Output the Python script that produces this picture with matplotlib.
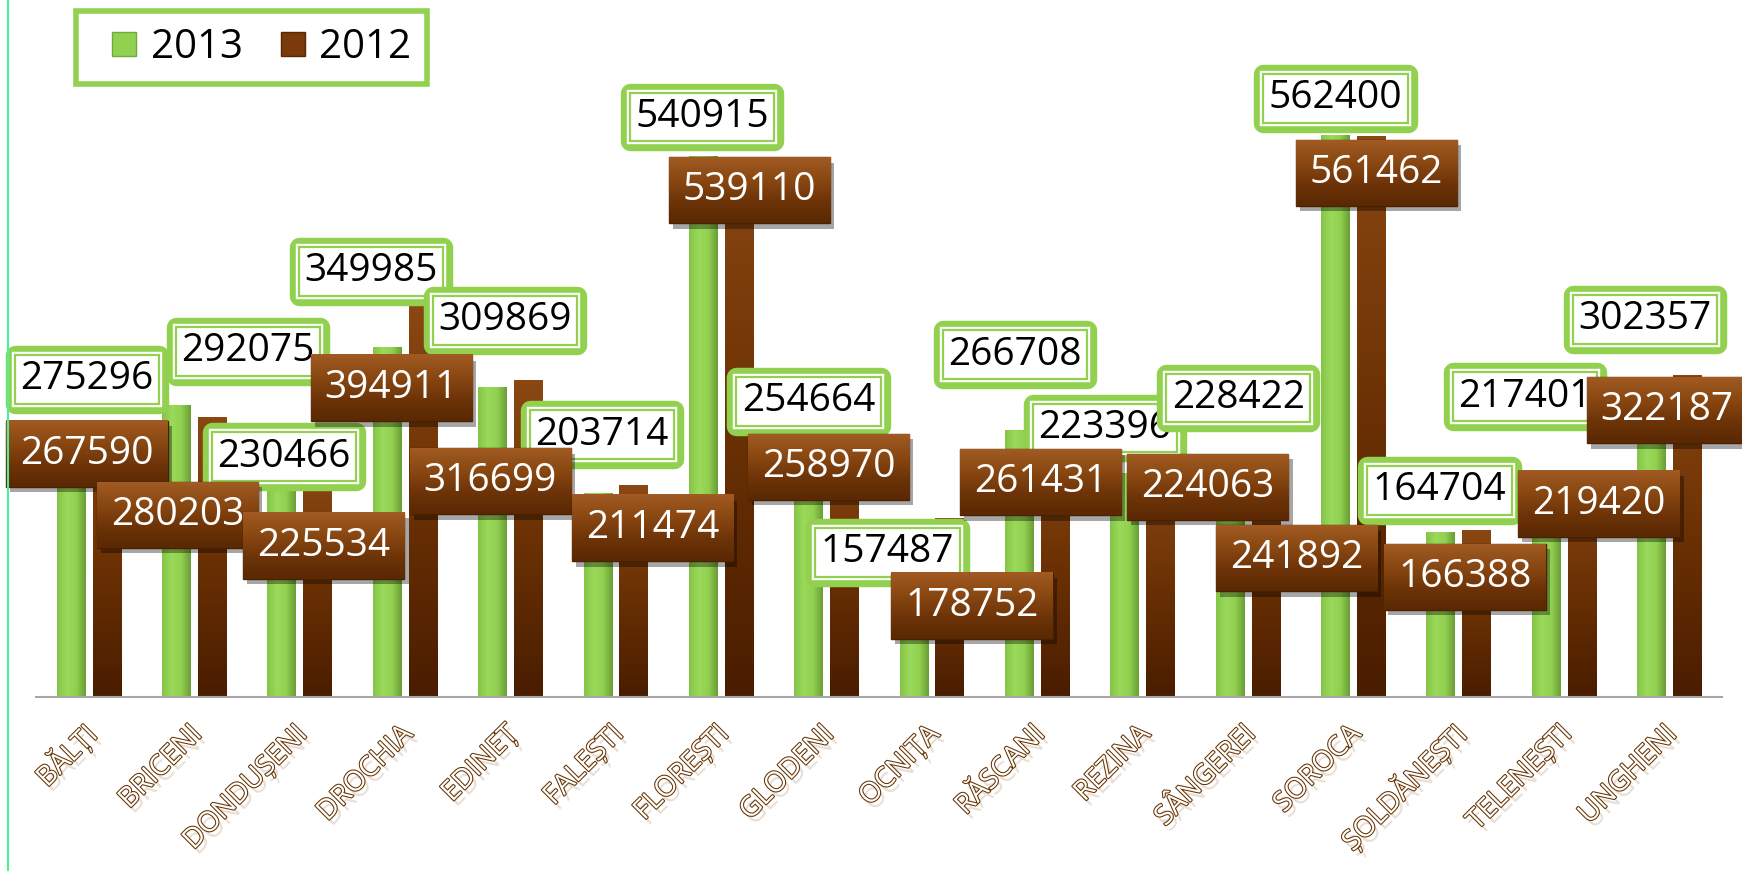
import numpy as np
import matplotlib
matplotlib.use("Agg")
import matplotlib.pyplot as plt
from matplotlib import patheffects as pe
from matplotlib.colors import LinearSegmentedColormap
from matplotlib.patches import Rectangle
from matplotlib.lines import Line2D
from matplotlib.transforms import ScaledTranslation

# raioane (north of Moldova)
raions = ['BĂLȚI', 'BRICENI', 'DONDUȘENI', 'DROCHIA', 'EDINEȚ', 'FALEȘTI',
          'FLOREȘTI', 'GLODENI', 'OCNIȚA', 'RĂSCANI', 'REZINA', 'SÂNGEREI',
          'SOROCA', 'ȘOLDĂNEȘTI', 'TELENEȘTI', 'UNGHENI']
v2013 = [275296, 292075, 230466, 349985, 309869, 203714, 540915, 254664,
         157487, 266708, 223396, 228422, 562400, 164704, 217401, 302357]
v2012 = [267590, 280203, 225534, 394911, 316699, 211474, 539110, 258970,
         178752, 261431, 224063, 241892, 561462, 166388, 219420, 322187]
years = ['2013', '2012']

# where the data labels were dragged to in the original (x in category units, y in data units)
lab13_x = [-0.02, 1.51, 1.85, 2.68, 3.95, 4.87, 5.82, 6.83, 7.58, 8.79, 9.64, 10.91, 11.83, 12.82, 13.63, 14.77]
lab13_y = [317700, 345500, 240000, 425500, 376600, 262200, 580000, 295500, 144400, 342200, 268900, 298900, 598800, 206600, 300000, 377700]
lab12_x = [-0.02, 0.84, 2.23, 2.87, 3.81, 5.35, 6.27, 7.02, 8.38, 9.03, 10.62, 11.46, 12.22, 13.06, 14.33, 14.98]
lab12_y = [243300, 182200, 151100, 308900, 215500, 168900, 506600, 230000, 91100, 214400, 210000, 138900, 524400, 120000, 193300, 286600]

green = '#92d050'
brown = '#7a3a0a'

plt.rcParams['font.family'] = ['Open Sans', 'DejaVu Sans']

fig = plt.figure(figsize=(17.42, 8.71), dpi=100)
ax = fig.add_axes([0.0208, 0.2, 0.9677, 0.746])

x = np.arange(len(raions))
w = 0.27
b13 = ax.bar(x - 0.17, v2013, w, color=green, zorder=2)
b12 = ax.bar(x + 0.17, v2012, w, color='#5e2800', zorder=2)
ax.set_xlim(-0.5, 15.5)
ax.set_ylim(0, 650000)

# fake the bevelled look with gradients clipped to each bar
green_cm = LinearSegmentedColormap.from_list('g', ['#84c447', '#9ad95a', '#92d050', '#6a9f35'])
brown_cm = LinearSegmentedColormap.from_list('b', ['#4a1d00', '#6b3104', '#8a4712'])
box_cm = LinearSegmentedColormap.from_list('bx', ['#5a2803', '#6e3408', '#8a4812', '#a05a22'])
hgrad = np.linspace(0, 1, 64).reshape(1, -1)
vgrad = np.linspace(0, 1, 64).reshape(-1, 1)
for r in b13:
    im = ax.imshow(hgrad, cmap=green_cm, extent=[r.get_x(), r.get_x() + r.get_width(), 0, r.get_height()],
                   aspect='auto', origin='lower', zorder=2.1, interpolation='bilinear')
    im.set_clip_path(r)
for r in b12:
    im = ax.imshow(vgrad, cmap=brown_cm, extent=[r.get_x(), r.get_x() + r.get_width(), 0, r.get_height()],
                   aspect='auto', origin='lower', zorder=2.1, interpolation='bilinear')
    im.set_clip_path(r)

# data labels, 2013: white box with double green frame
for i in range(len(raions)):
    t = ax.text(lab13_x[i], lab13_y[i], str(v2013[i]), ha='center', va='center', fontsize=28,
                color='black', zorder=5,
                bbox=dict(boxstyle='square,pad=0.14', fc='white', ec=green, lw=1.6))
    t.get_bbox_patch().set_path_effects([pe.Stroke(linewidth=14, foreground=green, joinstyle='round'),
                                         pe.Stroke(linewidth=4.6, foreground='white'),
                                         pe.Normal()])

# data labels, 2012: brown gradient plates with shadow
t12 = []
for i in range(len(raions)):
    t = ax.text(lab12_x[i], lab12_y[i], str(v2012[i]), ha='center', va='center', fontsize=28,
                color='white', zorder=6 + i * 0.01,
                bbox=dict(boxstyle='square,pad=0.36', fc=brown, ec='none'))
    t12.append(t)
fig.canvas.draw()
rend = fig.canvas.get_renderer()
inv = ax.transData.inverted()
for i, t in enumerate(t12):
    bb = t.get_bbox_patch().get_window_extent(rend)
    (x0, y0), (x1, y1) = inv.transform([[bb.x0, bb.y0], [bb.x1, bb.y1]])
    z = 6 + i * 0.01
    plate = Rectangle((x0, y0), x1 - x0, y1 - y0, fc=brown, ec='#4a2000', lw=1, zorder=z - 0.003, clip_on=False)
    plate.set_path_effects([pe.SimplePatchShadow(offset=(3, -4), shadow_rgbFace='black', alpha=0.35), pe.Normal()])
    ax.add_patch(plate)
    im = ax.imshow(vgrad, cmap=box_cm, extent=[x0, x1, y0, y1], aspect='auto', origin='lower',
                   zorder=z - 0.002, interpolation='bilinear')
    im.set_clip_path(plate)
    im.set_clip_box(fig.bbox)
    t.set_bbox(None)
ax.set_xlim(-0.5, 15.5)
ax.set_ylim(0, 650000)

# axes cosmetics
for s in ['top', 'right', 'left']:
    ax.spines[s].set_visible(False)
ax.spines['bottom'].set_color('#a6a6a6')
ax.spines['bottom'].set_linewidth(1.5)
ax.set_yticks([])
ax.set_xticks(x)
ax.set_xticklabels(raions, rotation=45, ha='right', va='center', rotation_mode='anchor',
                   fontsize=20, color='white')
ax.tick_params(axis='x', length=0, pad=24)
shift = ScaledTranslation(0.04, 0, fig.dpi_scale_trans)
for lab in ax.get_xticklabels():
    lab.set_path_effects([pe.SimplePatchShadow(offset=(3, -4), shadow_rgbFace='#b89878', alpha=0.3),
                          pe.Stroke(linewidth=1.5, foreground='#653200'),
                          pe.Normal()])
    lab.set_transform(lab.get_transform() + shift)

handles = [Line2D([], [], ls='none', marker='s', markersize=17, markerfacecolor=green, markeredgecolor='#6fa83c'),
           Line2D([], [], ls='none', marker='s', markersize=17, markerfacecolor=brown, markeredgecolor='#5a2800')]
leg = fig.legend(handles, years, loc='upper left', bbox_to_anchor=(76 / 1742, 1 - 11 / 871), ncol=2,
                 fontsize=29, frameon=True, fancybox=False, edgecolor=green, framealpha=1,
                 handlelength=1.6, handletextpad=-0.15, columnspacing=0.45,
                 borderpad=0.4, borderaxespad=0)
leg.get_frame().set_linewidth(4)

fig.add_artist(Line2D([8 / 1742, 8 / 1742], [0, 1], transform=fig.transFigure, color='#4cf09a', lw=1.5))

fig.savefig('out.png', dpi=100)
